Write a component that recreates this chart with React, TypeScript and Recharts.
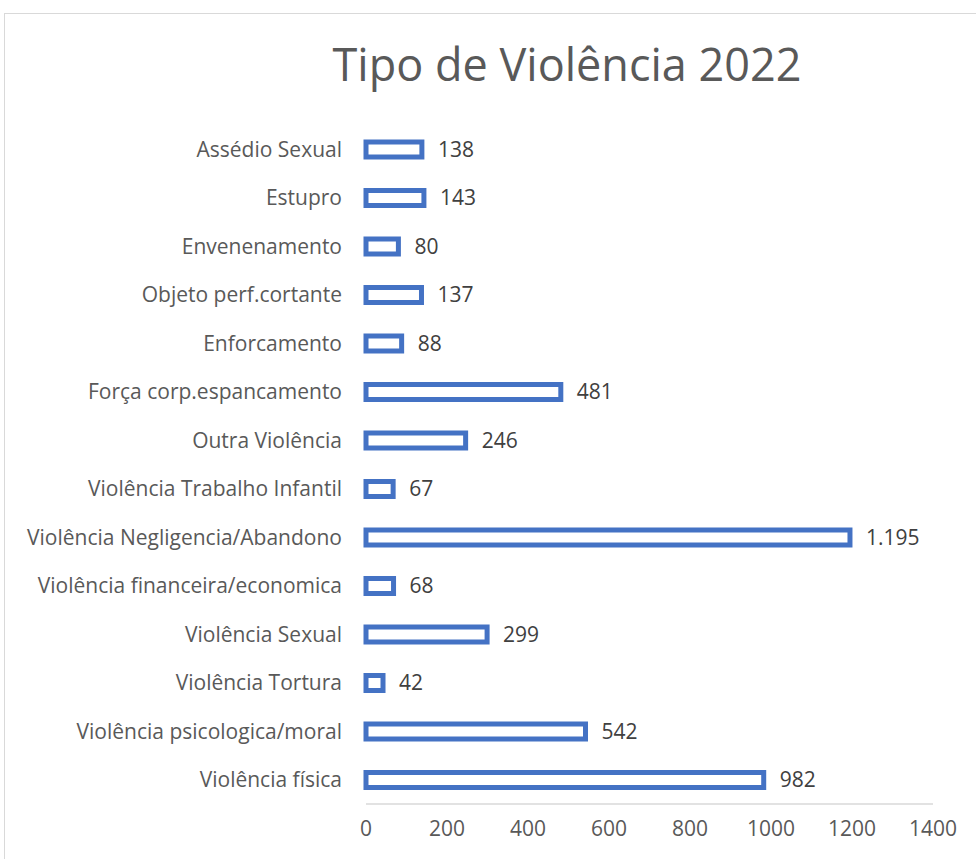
import React from "react";
import { BarChart, Bar, XAxis, YAxis, LabelList } from "recharts";

const categories = [
  "Assédio Sexual",
  "Estupro",
  "Envenenamento",
  "Objeto perf.cortante",
  "Enforcamento",
  "Força corp.espancamento",
  "Outra Violência",
  "Violência Trabalho Infantil",
  "Violência Negligencia/Abandono",
  "Violência financeira/economica",
  "Violência Sexual",
  "Violência Tortura",
  "Violência psicologica/moral",
  "Violência física",
];
const values = [138, 143, 80, 137, 88, 481, 246, 67, 1195, 68, 299, 42, 542, 982];
const xTicks = [0, 200, 400, 600, 800, 1000, 1200, 1400];
const title = "Tipo de Violência 2022";

const data = categories.map((name, i) => ({ name, value: values[i] }));

const fmt = (v: number) =>
  String(v).replace(/\B(?=(\d{3})+(?!\d))/g, ".");

const FONT = "'Open Sans', sans-serif";

export default function App() {
  return (
    <div
      style={{
        position: "absolute",
        left: 0,
        top: 0,
        width: 976,
        height: 859,
        overflow: "hidden",
        background: "#fff",
        fontFamily: FONT,
      }}
    >
      <div
        style={{
          position: "absolute",
          left: 4,
          top: 13,
          width: 1000,
          height: 900,
          border: "1px solid #d9d9d9",
          boxSizing: "border-box",
        }}
      />
      <div
        style={{
          position: "absolute",
          left: 0,
          width: 1134,
          top: 34,
          textAlign: "center",
          fontSize: 45,
          color: "#595959",
          lineHeight: "60px",
        }}
      >
        {title}
      </div>
      <div style={{ position: "absolute", left: 0, top: 0 }}>
        <BarChart
          width={976}
          height={859}
          data={data}
          layout="vertical"
          margin={{ top: 125, right: 43, bottom: 0, left: 0 }}
          barCategoryGap={0}
        >
          <XAxis
            type="number"
            domain={[0, 1400]}
            ticks={xTicks}
            interval={0}
            height={55}
            tickSize={0}
            tickMargin={17}
            axisLine={{ stroke: "#d9d9d9", strokeWidth: 1.5 }}
            tick={{ fill: "#595959", fontSize: 21, fontFamily: FONT }}
          />
          <YAxis
            type="category"
            dataKey="name"
            width={366}
            axisLine={false}
            tickLine={false}
            tickSize={0}
            tickMargin={24}
            interval={0}
            tick={{ fill: "#595959", fontSize: 21, fontFamily: FONT }}
          />
          <Bar
            dataKey="value"
            barSize={15}
            fill="#ffffff"
            stroke="#4472c4"
            strokeWidth={5}
            isAnimationActive={false}
          >
            <LabelList
              dataKey="value"
              position="right"
              offset={16}
              formatter={(v: any) => fmt(Number(v))}
              style={{ fill: "#404040", fontSize: 21, fontFamily: FONT }}
            />
          </Bar>
        </BarChart>
      </div>
    </div>
  );
}
